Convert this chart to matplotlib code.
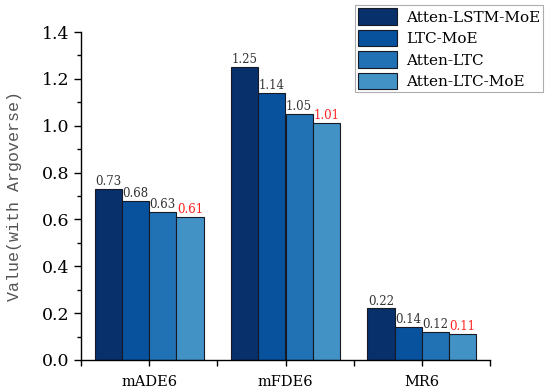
import matplotlib
matplotlib.use("Agg")
import matplotlib.pyplot as plt
import numpy as np

categories = ["mADE6", "mFDE6", "MR6"]
series_names = ["Atten-LSTM-MoE", "LTC-MoE", "Atten-LTC", "Atten-LTC-MoE"]
values = {
    "Atten-LSTM-MoE": [0.73, 1.25, 0.22],
    "LTC-MoE": [0.68, 1.14, 0.14],
    "Atten-LTC": [0.63, 1.05, 0.12],
    "Atten-LTC-MoE": [0.61, 1.01, 0.11],
}
colors = ["#08306b", "#08519c", "#2171b5", "#4292c6"]
yticks = [0.0, 0.2, 0.4, 0.6, 0.8, 1.0, 1.2, 1.4]

plt.rcParams['font.family'] = ['DejaVu Serif']

fig = plt.figure(figsize=(5.5, 3.92), dpi=100)
ax = fig.add_axes([81/550, 32/392, (490-81)/550, (360-32)/392])

x = np.arange(len(categories))
w = 0.2
for i, name in enumerate(series_names):
    pos = x - 0.3 + i * w
    ax.bar(pos, values[name], width=w, color=colors[i], edgecolor="#151a25",
           linewidth=0.8, label=name)
    for px, v in zip(pos, values[name]):
        ax.text(px, v + 0.004, f"{v:.2f}", ha="center", va="bottom", fontsize=8.5,
                color="#ff2020" if i == 3 else "#333333")

ax.set_xlim(-0.5, 2.5)
ax.set_ylim(0, 1.4)
ax.set_xticks(x)
ax.set_xticklabels(categories, fontsize=10.5)
ax.set_xticks(np.arange(-0.5, 2.6, 1.0), minor=True)
ax.set_yticks(yticks)
ax.set_yticklabels([f"{t:.1f}" for t in yticks], fontsize=12.5)
ax.set_yticks(np.arange(0.1, 1.4, 0.2), minor=True)
ax.tick_params(axis='x', which='both', direction='out', length=4, width=1, pad=7)
ax.tick_params(axis='y', which='major', direction='out', length=5, width=1)
ax.tick_params(axis='y', which='minor', direction='out', length=3, width=1)
for s in ["top", "right"]:
    ax.spines[s].set_visible(False)
for s in ["left", "bottom"]:
    ax.spines[s].set_linewidth(1)
ax.set_ylabel("Value(with Argoverse)", fontsize=12, color="#555555",
              family=['Liberation Mono'], labelpad=14)

leg = fig.legend(loc="upper right", bbox_to_anchor=(543/550, 1 - 5/392), frameon=True,
                 fancybox=False, edgecolor="#999999",
                 handlelength=2.55, handleheight=1.3, handletextpad=0.6,
                 borderpad=0.2, labelspacing=0.32, borderaxespad=0,
                 prop={'family': 'DejaVu Serif', 'size': 11})
leg.get_frame().set_linewidth(0.8)

fig.savefig("out.png", dpi=100)
